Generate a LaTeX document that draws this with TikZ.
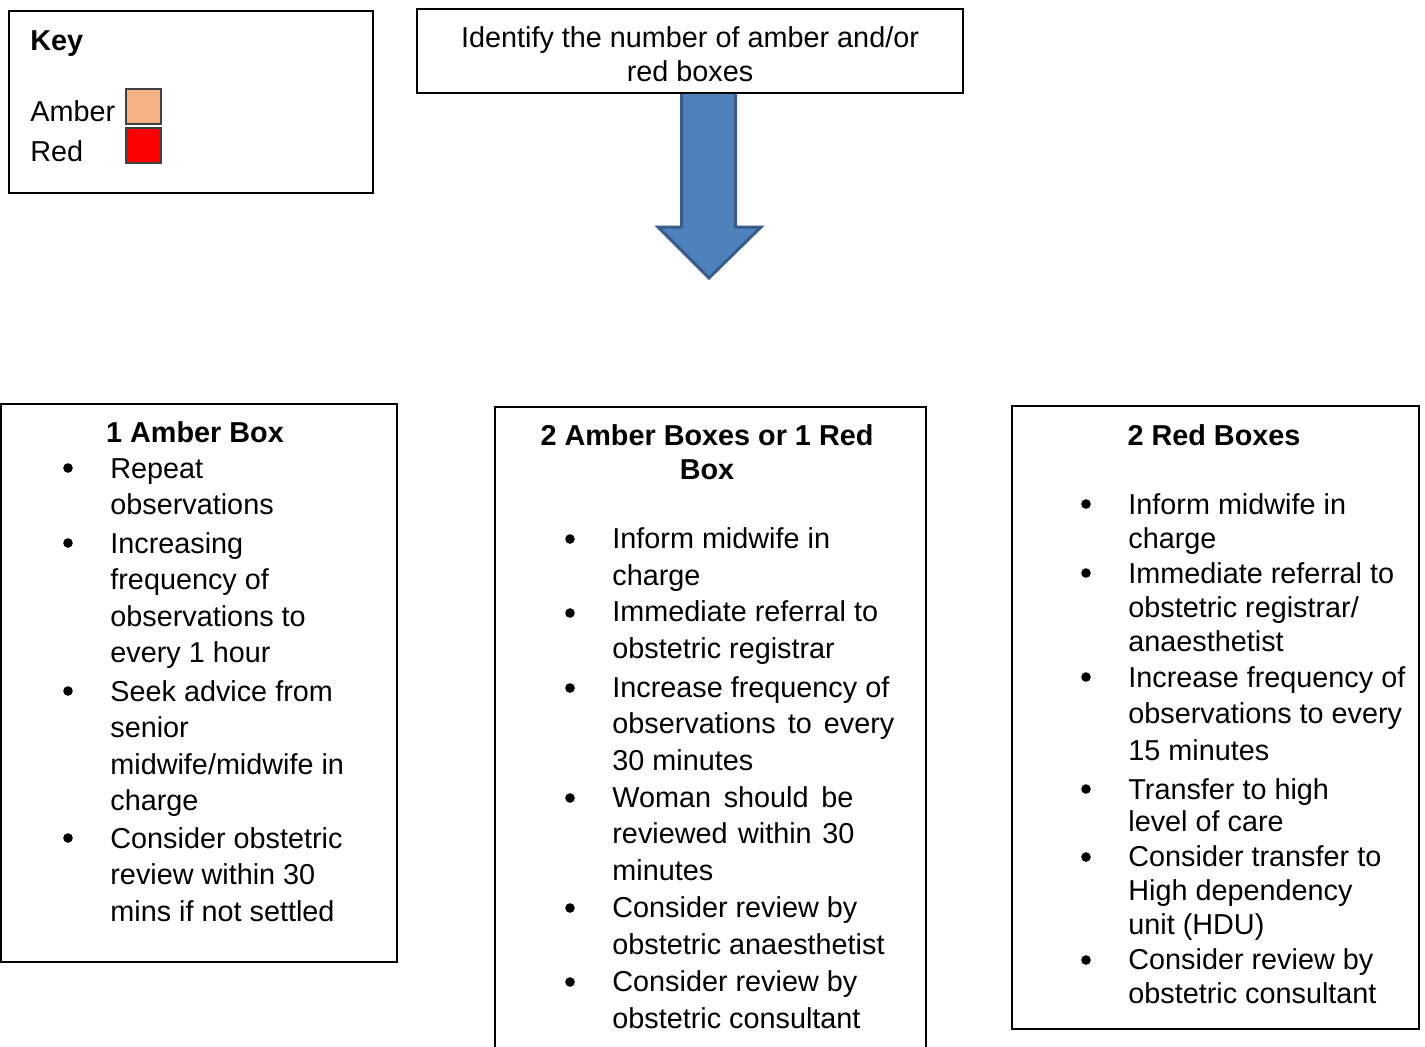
\documentclass[tikz,border=0pt]{standalone}
\usepackage{fontspec}
\setmainfont{Liberation Sans}
\usepackage{tikz}
\definecolor{amber}{RGB}{244,177,131}
\definecolor{arrowblue}{RGB}{79,129,189}
\definecolor{arrowedge}{RGB}{56,93,138}

\begin{document}
\begin{tikzpicture}[x=0.5pt,y=-0.5pt,
	box/.style={draw=black, line width=1pt},
	txt/.style={anchor=base west, align=left, inner sep=0pt, font=\fontsize{14.4}{18.25}\selectfont},
	txtr/.style={txt, font=\fontsize{14.4}{17}\selectfont},
	head/.style={anchor=base, align=center, inner sep=0pt, font=\fontsize{14.4}{17}\selectfont\bfseries},
	keysq/.style={draw=black!75, line width=0.6pt, minimum size=17.5pt, inner sep=0pt}]
	\useasboundingbox (0,0) rectangle (1425,1046);
	\clip (0,0) rectangle (1425,1046);
	\fill[white] (0,0) rectangle (1425,1046);
	
	% key
	\draw[box] (9,11) rectangle (373,193);
	\node[head, anchor=base west] (keytitle) at (30,50) {Key};
	\node[txt] (amberlbl) at (30,121) {Amber}; \node[keysq, fill=amber] (ambersq) at (143.5,106.5) {};
	\node[txt] (redlbl) at (30,161) {Red}; \node[keysq, fill=red] (redsq) at (143.5,145.5) {};
	
	% arrow under the first step
	\filldraw[fill=arrowblue, draw=arrowedge, line width=1.5pt, line join=miter] (681.5,93) -- (681.5,227) -- (658,227) -- (709,278) -- (761,227) -- (735.5,227) -- (735.5,93);
	\draw[box] (417,9) rectangle (963,93);
	% multi-line nodes sit on their last line
	\node[txtr, anchor=base, align=center] (task) at (690,81) {Identify the number of amber and/or\\red boxes};
	
	% 1 amber box
	\draw[box] (1,404) rectangle (397,962);
	\node[head] (onetitle) at (195,442) {1 Amber Box};
	\node[txt] (one1) at (110,514.5) {Repeat\\observations};
	\node[txt] (one2) at (110,662.5) {Increasing\\frequency of\\observations to\\every 1 hour};
	\node[txt] (one3) at (110,810.5) {Seek advice from\\senior\\midwife/midwife in\\charge};
	\node[txt] (one4) at (110,921) {Consider obstetric\\review within 30\\mins if not settled};
	\foreach \y in {478,553,701,848} \fill (68,\y-10) circle (2.4pt);
	
	% 2 amber boxes or 1 red box
	\draw[box] (495,407) rectangle (926,1070);
	\node[head] (twotitle) at (707,479) {2 Amber Boxes or 1 Red\\Box};
	\node[txt] (two1) at (612,585) {Inform midwife in\\charge};
	\node[txt] (two2) at (612,658) {Immediate referral to\\obstetric registrar};
	\node[txt] (two3) at (612,770) {Increase frequency of\\\makebox[141pt][s]{observations to every}\\30 minutes};
	\node[txt] (two4) at (612,880) {\makebox[120.5pt][s]{Woman should be}\\\makebox[121pt][s]{reviewed within 30}\\minutes};
	\node[txt] (two5) at (612,954) {Consider review by\\obstetric anaesthetist};
	\node[txt] (two6) at (612,1028) {Consider review by\\obstetric consultant};
	\foreach \y in {549,623,698,808,918,992} \fill (570,\y-10) circle (2.4pt);
	
	% 2 red boxes
	\draw[box] (1012,406) rectangle (1419,1029);
	\node[head] (redtitle) at (1214,445) {2 Red Boxes};
	\node[txtr] (red1) at (1128,548) {Inform midwife in\\charge};
	\node[txtr] (red2) at (1128,651) {Immediate referral to\\obstetric registrar/\\anaesthetist};
	\node[txt] (red3) at (1128,760) {Increase frequency of\\observations to every\\15 minutes};
	\node[txtr, font=\fontsize{14.4}{16}\selectfont] (red4) at (1128,831) {Transfer to high\\level of care};
	\node[txtr] (red5) at (1128,934) {Consider transfer to\\High dependency\\unit (HDU)};
	\node[txtr] (red6) at (1128,1003) {Consider review by\\obstetric consultant};
	\foreach \y in {514,583,687,799,867,970} \fill (1086,\y-10) circle (2.4pt);
\end{tikzpicture}
\end{document}
